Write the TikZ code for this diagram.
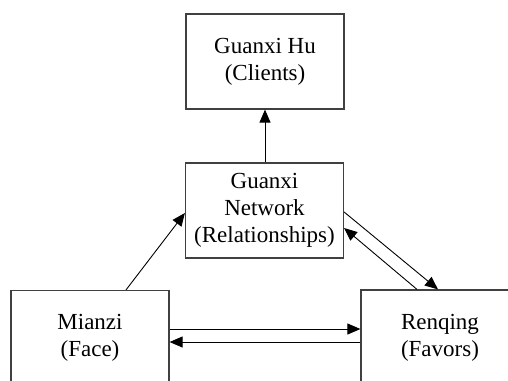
\documentclass[tikz,border=0pt]{standalone}
\usepackage{fontspec}
\setmainfont{Liberation Serif}
\usetikzlibrary{arrows.meta}
\begin{document}
\begin{tikzpicture}[x=0.5pt,y=-0.5pt,
  gbox/.style={draw=black!75,line width=0.6pt,minimum width=79pt,minimum height=47.5pt,
    inner sep=0pt,align=center,font=\fontsize{11.5}{13.6}\selectfont},
  link/.style={-{Triangle[length=6.5pt,width=5.5pt]},line width=0.45pt}]
\useasboundingbox (0,0) rectangle (508,380);
% boxes
\node[gbox] (hu) at (265,61.5) {Guanxi Hu\\(Clients)};
\node[gbox] (net) at (264.5,210.5) {Guanxi\\Network\\(Relationships)};
\node[gbox] (mianzi) at (90,338) {Mianzi\\(Face)};
\node[gbox] (renqing) at (440,337.5) {Renqing\\(Favors)};
% links
\draw[link] (net.north -| hu.south) -- (hu.south);
\draw[link] ([xshift=18pt]mianzi.north) -- ([yshift=-1.25pt]net.west);
\draw[link] ([yshift=4.5pt]mianzi.east) coordinate (m1) -- (m1 -| renqing.west);
\draw[link] ([yshift=-2.25pt]renqing.west) coordinate (r1) -- (r1 -| mianzi.east);
\draw[link] ([yshift=-0.75pt]net.east) -- ([xshift=-1pt]renqing.north);
\draw[link] ([xshift=-11.5pt]renqing.north) -- ([yshift=-8.75pt]net.east);
\end{tikzpicture}
\end{document}
